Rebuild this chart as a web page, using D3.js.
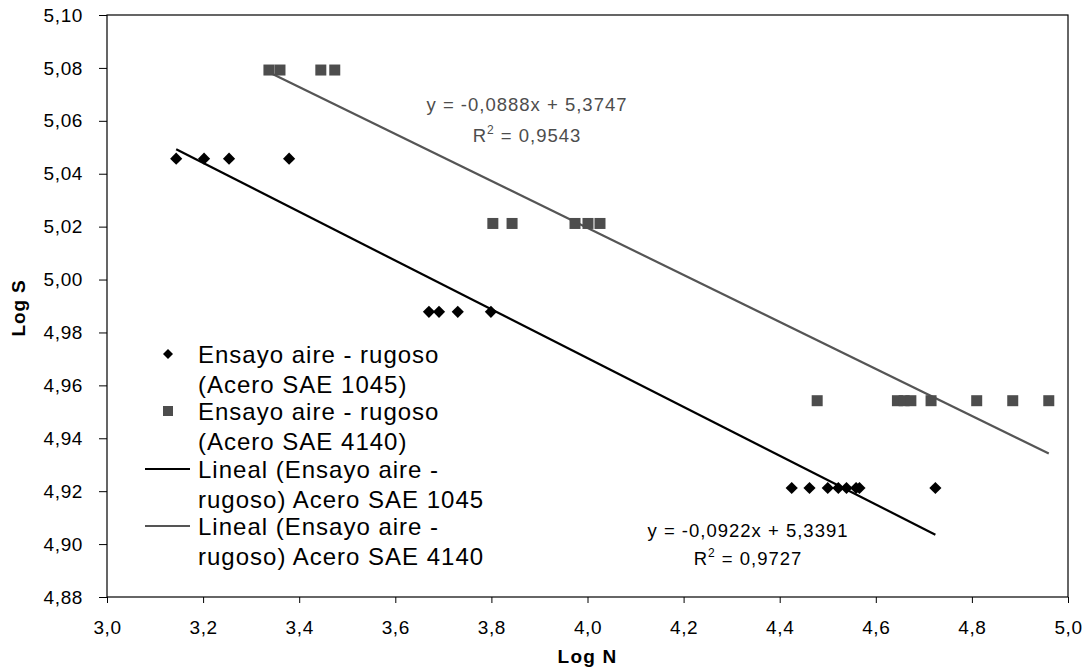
<!DOCTYPE html>
<html>
<head>
<meta charset="utf-8">
<script src="https://cdn.jsdelivr.net/npm/d3@7"></script>
<style>
  body { margin: 0; background: #fff; }
  text { font-family: "Liberation Sans", Arial, sans-serif; }
</style>
</head>
<body>
<script>
// data
const logN1045 = [3.144, 3.202, 3.254, 3.379, 3.670, 3.691, 3.730, 3.799,
                  4.425, 4.462, 4.500, 4.522, 4.539, 4.559, 4.566, 4.724];
const logS1045 = [5.0457, 5.0457, 5.0457, 5.0457, 4.9878, 4.9878, 4.9878, 4.9878,
                  4.9212, 4.9212, 4.9212, 4.9212, 4.9212, 4.9212, 4.9212, 4.9212];
const logN4140 = [3.337, 3.360, 3.445, 3.474, 3.803, 3.843, 3.974, 4.001, 4.026,
                  4.478, 4.645, 4.659, 4.673, 4.715, 4.810, 4.885, 4.960];
const logS4140 = [5.0792, 5.0792, 5.0792, 5.0792, 5.0212, 5.0212, 5.0212, 5.0212, 5.0212,
                  4.9542, 4.9542, 4.9542, 4.9542, 4.9542, 4.9542, 4.9542, 4.9542];
// trendline coefficients shown on the chart
const fitSlope = [-0.0922, -0.0888];
const fitIntercept = [5.3391, 5.3747];
const fitLabels = [["y = -0,0922x + 5,3391", "0,9727"], ["y = -0,0888x + 5,3747", "0,9543"]];
const legendLabels = [
  ["Ensayo aire - rugoso", "(Acero SAE 1045)"],
  ["Ensayo aire - rugoso", "(Acero SAE 4140)"],
  ["Lineal (Ensayo aire -", "rugoso) Acero SAE 1045"],
  ["Lineal (Ensayo aire -", "rugoso) Acero SAE 4140"]
];
const xTicks = d3.range(3.0, 5.001, 0.2);
const yTicks = d3.range(4.88, 5.1001, 0.02);

const W = 1091, H = 671;
const pLeft = 107, pRight = 1068, pTop = 15, pBottom = 597;
const squareCol = "#4d4d4d";
const comma = v => v.replace(".", ",");

const svg = d3.select("body").append("svg")
  .attr("width", W).attr("height", H);

const x = d3.scaleLinear().domain([3.0, 5.0]).range([pLeft, pRight]);
const y = d3.scaleLinear().domain([4.88, 5.10]).range([pBottom, pTop]);

// plot frame
svg.append("rect")
  .attr("x", pLeft).attr("y", pTop)
  .attr("width", pRight - pLeft).attr("height", pBottom - pTop)
  .attr("fill", "none").attr("stroke", "#000").attr("stroke-width", 1.2);

// axes
const yAxis = svg.append("g")
  .attr("transform", `translate(${pLeft},0)`)
  .call(d3.axisLeft(y).tickValues(yTicks).tickSize(8).tickPadding(16)
    .tickFormat(d => comma(d3.format(".2f")(d))));
const xAxis = svg.append("g")
  .attr("transform", `translate(0,${pBottom})`)
  .call(d3.axisBottom(x).tickValues(xTicks).tickSize(6).tickPadding(18)
    .tickFormat(d => comma(d3.format(".1f")(d))));
[yAxis, xAxis].forEach(g => {
  g.select(".domain").remove();
  g.selectAll("line").attr("stroke", "#000");
  g.selectAll("text").attr("font-size", 19).attr("fill", "#000")
    .attr("letter-spacing", 0.6)
    .style("font-family", "'Liberation Sans', Arial, sans-serif");
});

// axis titles
svg.append("text")
  .attr("x", (pLeft + pRight) / 2).attr("y", 663)
  .attr("text-anchor", "middle").attr("font-size", 19).attr("font-weight", "bold")
  .attr("letter-spacing", 1.2)
  .text("Log N");
svg.append("text")
  .attr("transform", `translate(25,${(pTop + pBottom) / 2 + 2}) rotate(-90)`)
  .attr("text-anchor", "middle").attr("font-size", 19).attr("font-weight", "bold")
  .attr("letter-spacing", 0.8)
  .text("Log S");

// trendlines
const seriesX = [logN1045, logN4140];
const lineCols = ["#000", "#555"];
seriesX.forEach((xs, i) => {
  const ext = d3.extent(xs);
  const pts = ext.map(v => [v, fitSlope[i] * v + fitIntercept[i]]);
  svg.append("path")
    .attr("d", d3.line().x(d => x(d[0])).y(d => y(d[1]))(pts))
    .attr("stroke", lineCols[i]).attr("stroke-width", 2.2).attr("fill", "none");
});

// markers
svg.append("g").selectAll("path")
  .data(logN1045.map((v, i) => [v, logS1045[i]]))
  .join("path")
  .attr("transform", d => `translate(${x(d[0])},${y(d[1])}) rotate(45)`)
  .attr("d", d3.symbol().type(d3.symbolSquare).size(74)())
  .attr("fill", "#000");
svg.append("g").selectAll("rect")
  .data(logN4140.map((v, i) => [v, logS4140[i]]))
  .join("rect")
  .attr("x", d => x(d[0]) - 5.5).attr("y", d => y(d[1]) - 5.5)
  .attr("width", 11).attr("height", 11)
  .attr("fill", squareCol);

// equations
const eqPos = [[748, 537, 565], [527, 111, 142]];
const eqCols = ["#000", "#4d4d4d"];
fitLabels.forEach((lab, i) => {
  const [cx, y1, y2] = eqPos[i];
  svg.append("text").attr("x", cx).attr("y", y1)
    .attr("text-anchor", "middle").attr("font-size", 18.5).attr("fill", eqCols[i])
    .attr("letter-spacing", 1)
    .text(lab[0]);
  const r2 = svg.append("text").attr("x", cx).attr("y", y2)
    .attr("text-anchor", "middle").attr("font-size", 18.5).attr("fill", eqCols[i])
    .attr("letter-spacing", 1);
  r2.append("tspan").text("R");
  r2.append("tspan").attr("dy", -8).attr("font-size", 12).text("2");
  r2.append("tspan").attr("dy", 8).text(" = " + lab[1]);
});

// legend
const legY = [363, 420, 478, 535];
legendLabels.forEach((lab, i) => {
  const g = svg.append("g");
  const my = legY[i] - 9;
  if (i === 0) {
    g.append("path").attr("transform", `translate(168,${my}) rotate(45)`)
      .attr("d", d3.symbol().type(d3.symbolSquare).size(50)()).attr("fill", "#000");
  } else if (i === 1) {
    g.append("rect").attr("x", 163).attr("y", my - 5).attr("width", 10).attr("height", 10)
      .attr("fill", squareCol);
  } else {
    g.append("line").attr("x1", 145).attr("x2", 190).attr("y1", my).attr("y2", my)
      .attr("stroke", lineCols[i - 2]).attr("stroke-width", 2.2);
  }
  lab.forEach((t, j) => {
    g.append("text").attr("x", 198).attr("y", legY[i] + j * 30)
      .attr("font-size", 24).attr("letter-spacing", 1).attr("fill", "#000").text(t);
  });
});
</script>
</body>
</html>
